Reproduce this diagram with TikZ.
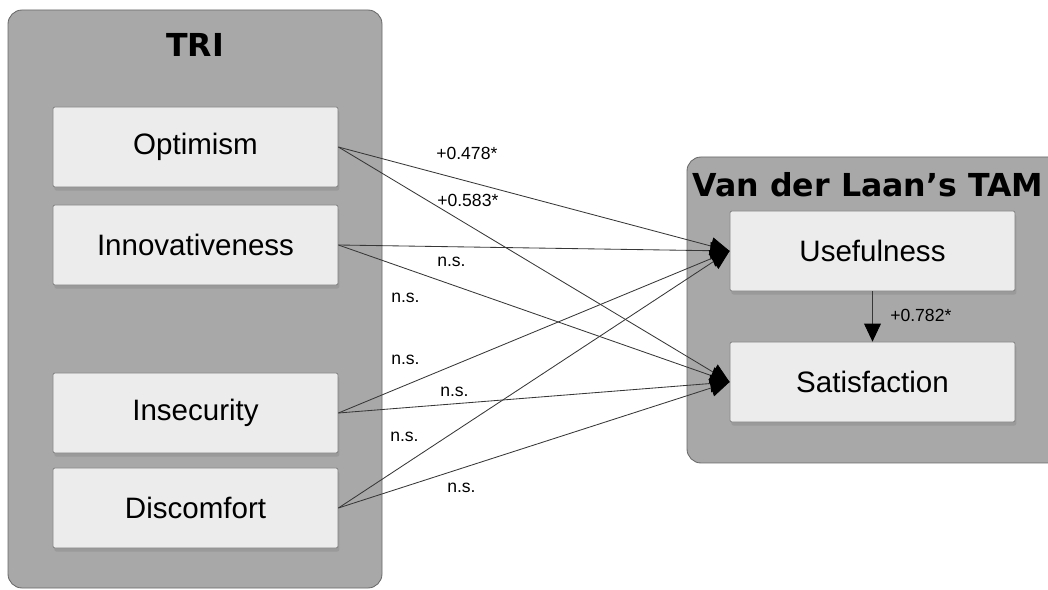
\documentclass[tikz,border=0pt]{standalone}
\usepackage{fontspec}
\setmainfont{Liberation Sans}
\newfontfamily\heavyfont{DejaVu Sans}
\usetikzlibrary{arrows.meta, positioning, shadows}
\definecolor{panelgray}{RGB}{168,168,168}
\definecolor{paneledge}{RGB}{105,105,105}
\definecolor{boxfill}{RGB}{236,236,236}
\definecolor{boxedge}{RGB}{125,125,125}
\definecolor{linegray}{RGB}{55,55,55}
\tikzset{
  panel/.style={draw=paneledge, fill=panelgray, rounded corners=10pt, line width=0.6pt},
  factor/.style={rectangle, draw=boxedge, fill=boxfill, minimum width=7.125cm, minimum height=2cm, font=\fontsize{21}{25}\selectfont, rounded corners=1.5pt, line width=0.5pt, drop shadow={shadow xshift=1pt, shadow yshift=-2.5pt, opacity=0.35}},
  paneltitle/.style={font=\heavyfont\bfseries\fontsize{22.5}{26}\selectfont},
  pathlabel/.style={font=\fontsize{12.5}{15}\selectfont, anchor=base west, inner sep=0pt},
  arrow/.style={-{Triangle[length=0.48cm, width=0.44cm, color=black]}, line width=0.6pt, color=linegray}
}

\begin{document}
\begin{tikzpicture}[x=0.025cm, y=-0.025cm]
  \useasboundingbox (0,0) rectangle (1048,590);
  \clip (0,0) rectangle (1048,590);

  % Panels
  \draw[panel] (8,10) rectangle (382,588);
  \draw[panel] (687,157) rectangle (1070,463);
  \node[paneltitle] (tri) at (195,45) {TRI};
  \node[paneltitle] (tam) at (868,185) {Van der Laan’s TAM};

  % TRI dimensions
  \node[factor] (opt) at (195.5,147) {Optimism};
  \node[factor] (inn) at (195.5,245) {Innovativeness};
  \node[factor] (ins) at (195.5,413) {Insecurity};
  \node[factor] (dis) at (195.5,508) {Discomfort};

  % TAM constructs
  \node[factor] (use) at (872.5,251) {Usefulness};
  \node[factor] (sat) at (872.5,382) {Satisfaction};

  % Paths
  \foreach \src in {opt,inn,ins,dis}
    \foreach \dst in {use,sat}
      \draw[arrow] (\src.east) -- (\dst.west);
  \draw[arrow, -{Triangle[length=0.45cm, width=0.42cm, color=black]}] (use.south) -- (sat.north);

  % Path coefficients
  \node[pathlabel] (lopt1) at (436,160) {+0.478*};
  \node[pathlabel] (lopt2) at (437,207) {+0.583*};
  \node[pathlabel] (linn1) at (437,267) {n.s.};
  \node[pathlabel] (linn2) at (391,303) {n.s.};
  \node[pathlabel] (lins1) at (391,365) {n.s.};
  \node[pathlabel] (lins2) at (440,397) {n.s.};
  \node[pathlabel] (ldis1) at (390,442) {n.s.};
  \node[pathlabel] (ldis2) at (447,493) {n.s.};
  \node[pathlabel] (luse) at (890,322) {+0.782*};
\end{tikzpicture}
\end{document}
